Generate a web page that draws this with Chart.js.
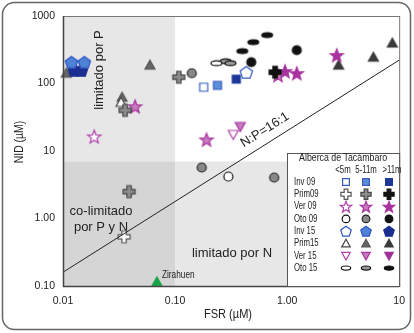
<!DOCTYPE html>
<html>
<head>
<meta charset="utf-8">
<script src="https://cdn.jsdelivr.net/npm/chart.js@4.4.1/dist/chart.umd.min.js"></script>
<style>
html, body { margin: 0; padding: 0; background: #fff; }
</style>
</head>
<body>
<canvas id="grafico" width="414" height="333"></canvas>
<script>
// Datos: pares [FSR, NID] en µM, por profundidad (<5m, 5-11m, >11m)
const profundidades = ['<5m', '5-11m', '>11m'];
const estaciones = ['Inv 09', 'Prim09', 'Ver 09', 'Oto 09', 'Inv 15', 'Prim15', 'Ver 15', 'Oto 15'];

const inv09 = [[[0.18, 88]], [[0.239, 94]], [[0.352, 116]]];
const prim09 = [[[0.0351, 0.536]], [[0.108, 124], [0.0358, 40], [0.0389, 2.5]], [[0.781, 147]]];
const ver09 = [[[0.019, 16.4]], [[0.044, 45.9], [0.191, 14.8], [0.83, 133]], [[0.958, 152], [1.22, 142], [2.77, 263]]];
const oto09 = [[[0.299, 4.18]], [[0.141, 142], [0.173, 5.69], [0.766, 4.04]], [[0.479, 207], [1.22, 312]]];
const inv15 = [[[0.432, 147]], [[0.0119, 207], [0.0155, 207]], [[0.0126, 157], [0.0146, 157]]];
const prim15 = [[[0.033, 52.6]], [[0.0107, 142], [0.0597, 187], [0.0337, 62.5]], [[2.88, 187], [5.89, 245], [8.69, 397]]];
const ver15 = [[[0.331, 17.6]], [[0.382, 23.1]], []];
const oto15 = [[[0.234, 200]], [[0.282, 214], [0.312, 200]], [[0.398, 302], [0.499, 410], [0.664, 521]]];
const zirahuen = [[0.0689, 0.115]];

// Linea N:P = 16:1 (extremos)
const lineaNP = [[0.01, 0.16], [10, 222]];

// Limites de las zonas sombreadas
const limiteFSR = 0.1;
const limiteNID = 7;

const ticksX = [0.01, 0.1, 1, 10];
const etiquetasX = ['0.01', '0.10', '1.00', '10'];
const ticksY = [0.1, 1, 10, 100, 1000];
const etiquetasY = ['0.10', '1.00', '10', '100', '1000'];

const fuente = '"Liberation Sans", Arial, sans-serif';

// Estilo de cada estacion: forma y colores (relleno, borde) por profundidad
const estilos = [
  { forma: 'cuadro', tam: 8, colores: [['#fff', '#3a5cc0'], ['#5b8fd8', '#3a5cc0'], ['#1f3799', '#1f3799']] },
  { forma: 'cruz', tam: 12, colores: [['#fff', '#555'], ['#8c8c8c', '#444'], ['#111', '#111']] },
  { forma: 'estrella', tam: 14, colores: [['#fff', '#b040a8'], ['#c77bbf', '#a8329e'], ['#a8329e', '#a8329e']] },
  { forma: 'circulo', tam: 9, colores: [['#fff', '#111'], ['#888', '#222'], ['#111', '#111']] },
  { forma: 'pentagono', tam: 13, colores: [['#fff', '#2f55c2'], ['#4e82d6', '#2f55c2'], ['#1c2f90', '#1c2f90']] },
  { forma: 'triangulo', tam: 10, colores: [['#fff', '#444'], ['#666', '#555'], ['#3a3a3a', '#3a3a3a']] },
  { forma: 'trianguloInv', tam: 10, colores: [['#fff', '#b040a8'], ['#c77bbf', '#a8329e'], ['#a0309a', '#a0309a']] },
  { forma: 'elipse', tam: 11, colores: [['#fff', '#111'], ['#999', '#111'], ['#111', '#111']] }
];
const seriesEstaciones = [inv09, prim09, ver09, oto09, inv15, prim15, ver15, oto15];

function dibujarMarcador(ctx, forma, x, y, s, relleno, borde) {
  ctx.save();
  ctx.beginPath();
  if (forma === 'cuadro') {
    ctx.rect(x - s / 2, y - s / 2, s, s);
  } else if (forma === 'cruz') {
    const a = s / 2, b = s * 0.18;
    const p = [[-b, -a], [b, -a], [b, -b], [a, -b], [a, b], [b, b], [b, a], [-b, a], [-b, b], [-a, b], [-a, -b], [-b, -b]];
    p.forEach(([dx, dy], i) => i ? ctx.lineTo(x + dx, y + dy) : ctx.moveTo(x + dx, y + dy));
    ctx.closePath();
  } else if (forma === 'estrella') {
    for (let i = 0; i < 10; i++) {
      const r = i % 2 ? s * 0.21 : s / 2;
      const ang = -Math.PI / 2 + i * Math.PI / 5;
      ctx.lineTo(x + r * Math.cos(ang), y + s * 0.05 + r * Math.sin(ang));
    }
    ctx.closePath();
  } else if (forma === 'circulo') {
    ctx.arc(x, y, s / 2, 0, Math.PI * 2);
  } else if (forma === 'pentagono') {
    for (let i = 0; i < 5; i++) {
      const ang = -Math.PI / 2 + i * 2 * Math.PI / 5;
      ctx.lineTo(x + s / 2 * Math.cos(ang), y + s * 0.05 + s / 2 * Math.sin(ang));
    }
    ctx.closePath();
  } else if (forma === 'triangulo') {
    ctx.moveTo(x, y - s / 2);
    ctx.lineTo(x + s / 2, y + s * 0.4);
    ctx.lineTo(x - s / 2, y + s * 0.4);
    ctx.closePath();
  } else if (forma === 'trianguloInv') {
    ctx.moveTo(x, y + s / 2);
    ctx.lineTo(x + s / 2, y - s * 0.4);
    ctx.lineTo(x - s / 2, y - s * 0.4);
    ctx.closePath();
  } else if (forma === 'elipse') {
    ctx.ellipse(x, y, s / 2, s / 4.5, 0, 0, Math.PI * 2);
  }
  ctx.fillStyle = relleno;
  ctx.fill();
  ctx.lineWidth = 1.2;
  ctx.strokeStyle = borde;
  ctx.stroke();
  ctx.restore();
}

// Texto comprimido horizontalmente (no hay fuente angosta instalada)
function textoAngosto(ctx, texto, x, y, tam, factor, alineacion) {
  ctx.save();
  ctx.font = tam + 'px ' + fuente;
  ctx.textAlign = alineacion || 'center';
  ctx.textBaseline = 'middle';
  ctx.translate(x, y);
  ctx.scale(factor, 1);
  ctx.fillText(texto, 0, 0);
  ctx.restore();
}

// Crear un canvas pequeño para usarlo como pointStyle
function crearIcono(forma, s, relleno, borde) {
  const lado = Math.ceil(s + 4);
  const c = document.createElement('canvas');
  c.width = lado;
  c.height = lado;
  dibujarMarcador(c.getContext('2d'), forma, lado / 2, lado / 2, s, relleno, borde);
  return c;
}

const datasets = [];
datasets.push({
  type: 'line',
  data: lineaNP.map(([x, y]) => ({ x, y })),
  borderColor: '#222',
  borderWidth: 1,
  pointRadius: 0,
  fill: false
});
seriesEstaciones.forEach((serie, i) => {
  const est = estilos[i];
  serie.forEach((puntos, j) => {
    if (!puntos.length) return;
    const [relleno, borde] = est.colores[j];
    datasets.push({
      label: estaciones[i] + ' ' + profundidades[j],
      data: puntos.map(([x, y]) => ({ x, y })),
      pointStyle: crearIcono(est.forma, est.tam, relleno, borde),
      pointRadius: 6,
      clip: false
    });
  });
});
datasets.push({
  label: 'Zirahuen',
  data: zirahuen.map(([x, y]) => ({ x, y })),
  pointStyle: crearIcono('triangulo', 10, '#1aa34a', '#1aa34a'),
  pointRadius: 6,
  clip: false
});

// Zonas sombreadas y textos de fondo
const pluginFondo = {
  id: 'fondo',
  beforeDatasetsDraw(chart) {
    const { ctx, chartArea: a, scales } = chart;
    const x1 = scales.x.getPixelForValue(limiteFSR);
    const y1 = scales.y.getPixelForValue(limiteNID);
    ctx.save();
    ctx.fillStyle = '#e7e7e7';
    ctx.fillRect(a.left, a.top, x1 - a.left, y1 - a.top);
    ctx.fillRect(x1, y1, a.right - x1, a.bottom - y1);
    ctx.fillStyle = '#d5d5d5';
    ctx.fillRect(a.left, y1, x1 - a.left, a.bottom - y1);

    ctx.fillStyle = '#222';
    ctx.font = '13px ' + fuente;
    ctx.textAlign = 'center';
    ctx.textBaseline = 'middle';
    ctx.fillText('co-limitado', 101, 211);
    ctx.fillText('por P y N', 101, 227);
    ctx.fillText('limitado por N', 232, 253);
    ctx.save();
    ctx.translate(99, 70);
    ctx.rotate(-Math.PI / 2);
    ctx.fillText('limitado por P', 0, 0);
    ctx.restore();

    // etiqueta sobre la linea N:P
    const p0 = { x: scales.x.getPixelForValue(lineaNP[0][0]), y: scales.y.getPixelForValue(lineaNP[0][1]) };
    const p1 = { x: scales.x.getPixelForValue(lineaNP[1][0]), y: scales.y.getPixelForValue(lineaNP[1][1]) };
    const ang = Math.atan2(p1.y - p0.y, p1.x - p0.x);
    ctx.save();
    ctx.translate(265, 130);
    ctx.rotate(ang);
    ctx.fillText('N:P=16:1', 0, 0);
    ctx.restore();

    textoAngosto(ctx, 'Zirahuen', 162, 275, 11, 0.75, 'left');
    ctx.restore();
  }
};

// Marco, titulos de ejes y leyenda
const pluginMarco = {
  id: 'marco',
  afterDraw(chart) {
    const { ctx, chartArea: a } = chart;
    ctx.save();
    ctx.strokeStyle = '#777';
    ctx.lineWidth = 1;
    ctx.strokeRect(a.left + 0.5, a.top + 0.5, a.right - a.left, a.bottom - a.top);
    ctx.strokeStyle = '#444';
    ctx.lineWidth = 1.5;
    ctx.beginPath();
    ctx.moveTo(a.left + 0.5, a.top);
    ctx.lineTo(a.left + 0.5, a.bottom + 0.5);
    ctx.lineTo(a.right, a.bottom + 0.5);
    ctx.stroke();

    ctx.strokeStyle = '#666';
    ctx.lineWidth = 1.5;
    ctx.beginPath();
    ctx.roundRect(2.5, 2.5, 408, 327, 12);
    ctx.stroke();

    ctx.fillStyle = '#222';
    ctx.textAlign = 'center';
    ctx.textBaseline = 'middle';
    textoAngosto(ctx, 'FSR (µM)', 228, 314, 13, 0.85);
    ctx.save();
    ctx.translate(19, 142);
    ctx.rotate(-Math.PI / 2);
    textoAngosto(ctx, 'NID (µM)', 0, 0, 13, 0.8);
    ctx.restore();

    // leyenda
    const lx = 287, ly = 153, lw = a.right - lx, lh = a.bottom - ly;
    ctx.fillStyle = '#fff';
    ctx.fillRect(lx, ly, lw, lh);
    ctx.strokeStyle = '#555';
    ctx.lineWidth = 1;
    ctx.strokeRect(lx + 0.5, ly + 0.5, lw, lh);
    ctx.fillStyle = '#222';
    textoAngosto(ctx, 'Alberca de Tacámbaro', lx + lw / 2, 158, 11, 0.8);
    const columnas = [346, 366, 389];
    const columnasTexto = [343, 366, 392];
    profundidades.forEach((p, j) => textoAngosto(ctx, p, columnasTexto[j], 170, 10, 0.78));
    estaciones.forEach((nombre, i) => {
      const y = 182 + i * 12.3;
      ctx.fillStyle = '#222';
      textoAngosto(ctx, nombre, 294, y, 10, 0.78, 'left');
      const est = estilos[i];
      est.colores.forEach(([relleno, borde], j) => {
        dibujarMarcador(ctx, est.forma, columnas[j], y, est.tam * 0.85, relleno, borde);
      });
    });
    ctx.restore();
  }
};

new Chart(document.getElementById('grafico'), {
  type: 'scatter',
  data: { datasets },
  options: {
    responsive: false,
    animation: false,
    devicePixelRatio: 1,
    layout: { padding: { left: 0, right: 12, top: 16, bottom: 0 } },
    plugins: { legend: { display: false }, tooltip: { enabled: false } },
    scales: {
      x: {
        type: 'logarithmic',
        min: 0.01,
        max: 10,
        grid: { display: false, drawTicks: false },
        border: { display: false },
        afterBuildTicks: (s) => { s.ticks = ticksX.map(v => ({ value: v })); },
        afterFit: (s) => { s.height = 47; },
        ticks: {
          autoSkip: false,
          maxRotation: 0,
          padding: 9,
          color: '#222',
          font: { family: fuente, size: 10.5 },
          callback: (v, i) => etiquetasX[i]
        }
      },
      y: {
        type: 'logarithmic',
        min: 0.1,
        max: 1000,
        grid: { display: false, drawTicks: false },
        border: { display: false },
        afterBuildTicks: (s) => { s.ticks = ticksY.map(v => ({ value: v })); },
        afterFit: (s) => { s.width = 63; },
        ticks: {
          autoSkip: false,
          padding: 8,
          color: '#222',
          font: { family: fuente, size: 10.5 },
          callback: (v, i) => etiquetasY[i]
        }
      }
    }
  },
  plugins: [pluginFondo, pluginMarco]
});
</script>
</body>
</html>
